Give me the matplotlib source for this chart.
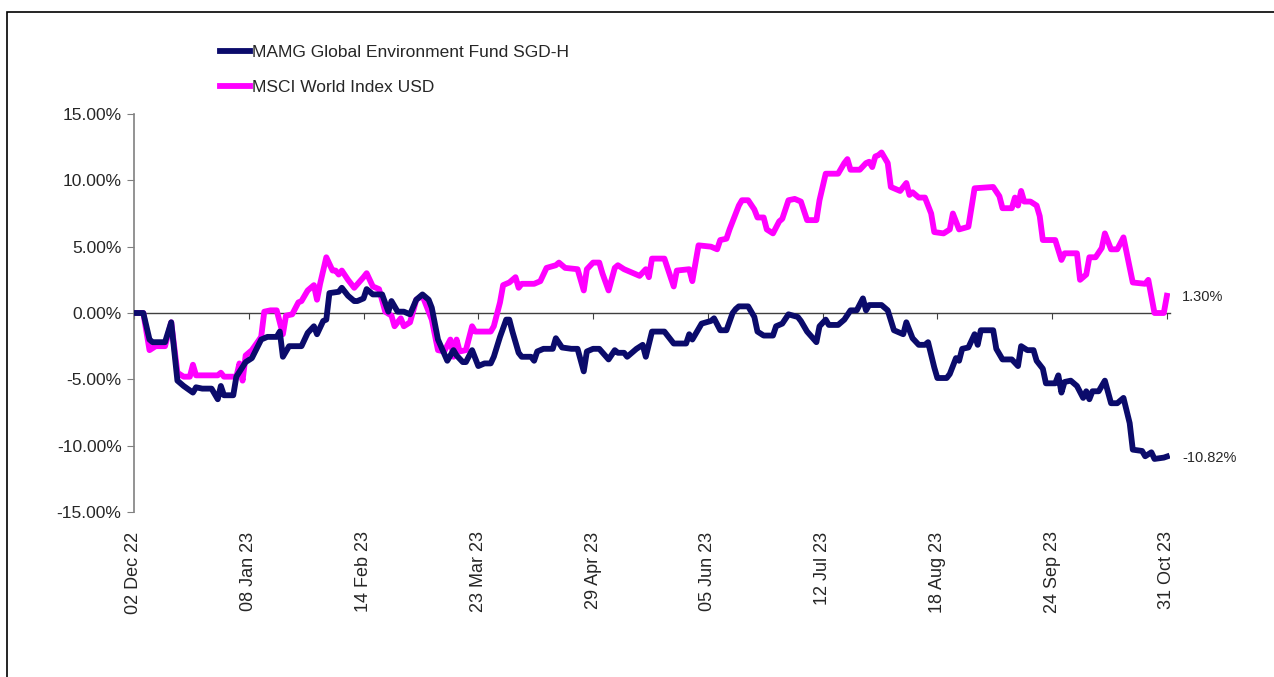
import numpy as np
import pandas as pd
import matplotlib
matplotlib.use("Agg")
import matplotlib.pyplot as plt
from matplotlib.patches import Rectangle

plt.rcParams['font.family'] = ['Liberation Sans', 'DejaVu Sans']

start = pd.Timestamp('2022-12-02')

# days since 02 Dec 22, cumulative return in %
fund_days = [0, 3, 5, 6, 10, 12, 14, 16, 19, 20, 22, 25, 27, 28, 29, 32, 33, 36, 38, 41,
             43, 46, 47, 48, 50, 54, 56, 58, 59, 61, 62, 63, 66, 67, 69, 71, 72, 74, 75, 77,
             80, 82, 83, 85, 87, 89, 91, 93, 95, 96, 98, 101, 103, 104, 106, 107, 109, 111, 113, 115,
             116, 118, 120, 121, 122, 124, 125, 128, 129, 130, 132, 135, 136, 138, 141, 143, 145, 146, 148, 150,
             153, 155, 156, 158, 159, 162, 164, 165, 167, 171, 173, 174, 178, 179, 180, 183, 186, 187, 189, 191,
             193, 194, 195, 198, 200, 201, 203, 206, 207, 209, 211, 214, 215, 217, 220, 221, 223, 224, 227, 229,
             231, 233, 235, 236, 237, 241, 243, 245, 248, 249, 251, 253, 255, 256, 258, 259, 262, 263, 265, 266,
             267, 269, 271, 272, 273, 277, 278, 280, 283, 285, 286, 288, 290, 291, 293, 294, 297, 298, 299, 300,
             302, 304, 306, 307, 308, 309, 311, 313, 315, 317, 319, 321, 322, 325, 326, 328, 329, 332, 333]
fund_vals = [0, 0, -2.0, -2.2, -2.2, -0.7, -5.1, -5.5, -6.0, -5.6, -5.7, -5.7, -6.5, -5.5, -6.2, -6.2, -4.8, -3.7, -3.4, -2.0,
             -1.8, -1.8, -1.4, -3.3, -2.5, -2.5, -1.5, -1.0, -1.6, -0.6, -0.5, 1.5, 1.6, 1.9, 1.3, 0.9, 0.9, 1.1, 1.8, 1.4,
             1.4, 0.1, 0.9, 0.1, 0.1, -0.1, 1.0, 1.4, 1.0, 0.4, -2.0, -3.6, -2.8, -3.2, -3.7, -3.7, -2.8, -4.0, -3.8, -3.8,
             -3.3, -1.8, -0.5, -0.5, -1.4, -3.0, -3.3, -3.3, -3.6, -2.9, -2.7, -2.7, -1.9, -2.6, -2.7, -2.7, -4.4, -2.9, -2.7, -2.7,
             -3.5, -2.8, -3.0, -3.0, -3.3, -2.7, -2.4, -3.3, -1.4, -1.4, -2.0, -2.3, -2.3, -1.6, -2.0, -0.8, -0.6, -0.4, -1.3, -1.3,
             0.0, 0.3, 0.5, 0.5, -0.3, -1.4, -1.7, -1.7, -1.0, -0.8, -0.1, -0.3, -0.6, -1.4, -2.2, -1.0, -0.5, -0.9, -0.9, -0.5,
             0.2, 0.2, 1.1, 0.2, 0.6, 0.6, 0.2, -1.3, -1.6, -0.7, -1.9, -2.4, -2.4, -2.2, -4.1, -4.9, -4.9, -4.6, -3.4, -3.6,
             -2.7, -2.6, -1.6, -2.4, -1.3, -1.3, -2.7, -3.5, -3.5, -4.0, -2.5, -2.8, -2.8, -3.6, -4.2, -5.3, -5.3, -4.7, -6.0, -5.2,
             -5.1, -5.5, -6.4, -5.9, -6.5, -5.9, -5.9, -5.1, -6.8, -6.8, -6.4, -8.3, -10.3, -10.4, -10.8, -10.5, -11.0, -10.9, -10.82]

msci_days = [0, 3, 5, 7, 10, 12, 14, 16, 18, 19, 20, 27, 28, 29, 33, 34, 35, 36, 38, 41,
             42, 44, 46, 48, 49, 51, 53, 54, 56, 58, 59, 60, 62, 64, 65, 66, 67, 69, 71, 74,
             75, 77, 79, 81, 83, 84, 86, 87, 89, 91, 93, 95, 96, 98, 100, 102, 103, 104, 105, 107,
             109, 110, 115, 116, 118, 119, 121, 123, 124, 125, 129, 131, 133, 136, 137, 139, 143, 145, 146, 148,
             150, 151, 153, 155, 156, 158, 160, 163, 165, 166, 167, 171, 174, 175, 179, 180, 182, 186, 188, 189,
             191, 192, 195, 196, 198, 200, 201, 203, 204, 206, 208, 209, 211, 213, 215, 217, 220, 221, 223, 227,
             229, 230, 231, 234, 236, 237, 238, 239, 240, 241, 243, 244, 247, 249, 250, 251, 253, 255, 257, 258,
             261, 263, 264, 266, 269, 271, 277, 279, 280, 283, 284, 285, 286, 287, 289, 291, 292, 293, 297, 299,
             300, 304, 305, 307, 308, 310, 312, 313, 315, 317, 319, 322, 326, 327, 329, 332, 333]
msci_vals = [0, 0, -2.8, -2.5, -2.5, -0.7, -4.5, -4.8, -4.8, -3.9, -4.7, -4.7, -4.5, -4.8, -4.8, -3.8, -5.1, -3.2, -2.8, -1.8,
             0.1, 0.2, 0.2, -1.6, -0.2, -0.1, 0.8, 0.9, 1.7, 2.1, 1.0, 2.2, 4.2, 3.2, 3.2, 2.9, 3.2, 2.5, 1.9, 2.7,
             3.0, 2.0, 1.8, 0.1, -0.2, -1.0, -0.4, -1.0, -0.7, 1.0, 1.3, 0.1, -0.5, -2.8, -2.9, -2.0, -3.3, -2.0, -2.9, -2.8,
             -1.0, -1.4, -1.4, -1.0, 0.8, 2.1, 2.3, 2.7, 1.9, 2.2, 2.2, 2.4, 3.4, 3.6, 3.8, 3.4, 3.3, 1.7, 3.3, 3.8,
             3.8, 3.0, 1.7, 3.4, 3.6, 3.3, 3.1, 2.8, 3.3, 2.7, 4.1, 4.1, 2.0, 3.2, 3.3, 2.4, 5.1, 5.0, 4.8, 5.5,
             5.6, 6.3, 8.1, 8.5, 8.5, 7.8, 7.2, 7.2, 6.3, 6.0, 6.9, 7.1, 8.5, 8.6, 8.4, 7.0, 7.0, 8.5, 10.5, 10.5,
             11.3, 11.6, 10.8, 10.8, 11.3, 11.4, 11.0, 11.8, 11.9, 12.1, 11.3, 9.5, 9.2, 9.8, 8.9, 9.1, 8.7, 8.7, 7.5, 6.1,
             6.0, 6.3, 7.5, 6.3, 6.5, 9.4, 9.5, 8.8, 7.9, 7.9, 8.7, 8.1, 9.2, 8.4, 8.4, 8.1, 7.3, 5.5, 5.5, 4.0,
             4.5, 4.5, 2.5, 2.9, 4.2, 4.2, 4.9, 6.0, 4.8, 4.8, 5.7, 2.3, 2.2, 2.5, 0.0, 0.0, 1.3]

tick_labels = ['02 Dec 22', '08 Jan 23', '14 Feb 23', '23 Mar 23', '29 Apr 23',
               '05 Jun 23', '12 Jul 23', '18 Aug 23', '24 Sep 23', '31 Oct 23']
y_ticks = [-15, -10, -5, 0, 5, 10, 15]

fund_name = 'MAMG Global Environment Fund SGD-H'
msci_name = 'MSCI World Index USD'
navy = '#0b0b6b'
pink = '#ff00ff'
txt = '#262626'

fund_x = start + pd.to_timedelta(fund_days, unit='D')
msci_x = start + pd.to_timedelta(msci_days, unit='D')
tick_x = pd.to_datetime(tick_labels, format='%d %b %y')

fig = plt.figure(figsize=(12.74, 6.77), dpi=100)
ax = fig.add_axes([134 / 1274, 1 - 512 / 677, 1036 / 1274, 398 / 677])

ax.plot(msci_x, msci_vals, color=pink, lw=4.2, solid_joinstyle='round', label=msci_name, zorder=3)
ax.plot(fund_x, fund_vals, color=navy, lw=4.2, solid_joinstyle='round', label=fund_name, zorder=4)

ax.set_xlim(start, tick_x[-1] + pd.Timedelta(days=1))
ax.set_ylim(-15, 15)

# zero line carries the x tick marks
for s in ['top', 'right']:
    ax.spines[s].set_visible(False)
ax.spines['bottom'].set_position(('data', 0))
ax.spines['bottom'].set_color('#404040')
ax.spines['bottom'].set_linewidth(1)
ax.spines['left'].set_color('#808080')
ax.spines['left'].set_linewidth(1.2)
ax.set_xticks(tick_x)
ax.tick_params(axis='x', direction='out', length=4, color='#404040', labelbottom=False)

ax.set_yticks(y_ticks)
ax.set_yticklabels([f'{v:.2f}%' for v in y_ticks])
ax.tick_params(axis='y', direction='out', length=5, color='#808080', labelsize=12.5, labelcolor=txt, pad=4)

sec = ax.secondary_xaxis('bottom')
sec.spines['bottom'].set_visible(False)
sec.set_xticks(tick_x)
sec.set_xticklabels(tick_labels, rotation=90, fontsize=13, color=txt)
sec.tick_params(axis='x', length=0, pad=14)

for xs, ys in [(msci_x, msci_vals), (fund_x, fund_vals)]:
    ax.annotate(f'{ys[-1]:.2f}%', xy=(xs[-1], ys[-1]), xytext=(11, -1), textcoords='offset points',
                va='center', ha='left', fontsize=10.5, color=txt)

h, l = ax.get_legend_handles_labels()
fig.legend(h[::-1], l[::-1], loc='upper left', bbox_to_anchor=(220 / 1274, 1 - 45 / 677),
           frameon=False, borderaxespad=0, borderpad=0, handlelength=1.75, handletextpad=0.1,
           labelspacing=1.15, fontsize=12.5, labelcolor=txt)

fig.patches.append(Rectangle((7 / 1274, -0.1), 1.2, 1.1 - 12 / 677, transform=fig.transFigure,
                             fill=False, edgecolor='black', lw=1.2))

fig.savefig('out.png', dpi=100)
